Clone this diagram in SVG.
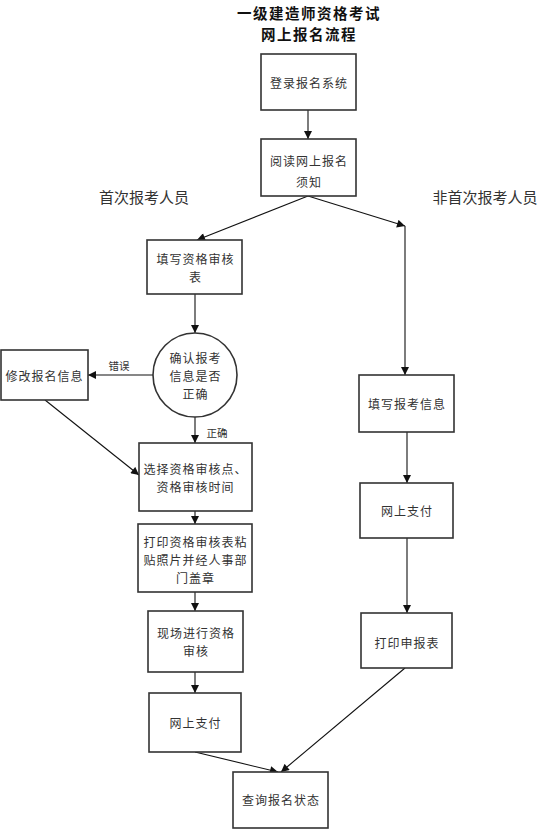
<svg xmlns="http://www.w3.org/2000/svg" width="542" height="829" viewBox="0 0 542 829">
<style>
.box{fill:#fff;stroke:#333;stroke-width:1.6}
.t{font-family:"Noto Sans CJK SC","Noto Sans",sans-serif;font-size:12px;letter-spacing:1px;fill:#333;text-anchor:middle;dominant-baseline:central}
.lab{font-family:"Noto Sans CJK SC","Noto Sans",sans-serif;font-size:15px;fill:#333;text-anchor:middle;dominant-baseline:central}
.sm{font-family:"Noto Sans CJK SC","Noto Sans",sans-serif;font-size:10.5px;fill:#333;text-anchor:middle;dominant-baseline:central}
.title{font-family:"Noto Sans CJK SC","Noto Sans",sans-serif;font-size:14.5px;letter-spacing:1.5px;font-weight:bold;fill:#111;text-anchor:middle;dominant-baseline:central}
.c{stroke:#111;stroke-width:1.1;fill:none}
.a{marker-end:url(#arr)}
</style>
<defs>
<marker id="arr" viewBox="0 0 10 10" refX="10" refY="5" markerWidth="9" markerHeight="8" markerUnits="userSpaceOnUse" orient="auto">
<path d="M0,0 L10,5 L0,10 z" fill="#111"/>
</marker>
</defs>
<rect width="542" height="829" fill="#fff"/>
<g id="title">
<text class="title" x="309" y="12">一级建造师资格考试</text>
<text class="title" x="309" y="33">网上报名流程</text>
</g>
<g id="label-first"><text class="lab" x="144" y="196">首次报考人员</text></g>
<g id="label-nonfirst"><text class="lab" x="485" y="196">非首次报考人员</text></g>
<g id="connectors">
<line class="c a" x1="308" y1="110" x2="308" y2="139"/>
<line class="c a" x1="308" y1="196" x2="197" y2="240"/>
<line class="c a" x1="308" y1="196" x2="405" y2="226"/>
<line class="c a" x1="405" y1="226" x2="405" y2="375"/>
<line class="c a" x1="195" y1="294" x2="195" y2="333"/>
<line class="c a" x1="153" y1="375" x2="88" y2="375"/>
<text class="sm" x="119" y="365">错误</text>
<line class="c a" x1="195" y1="417" x2="195" y2="443"/>
<text class="sm" x="217" y="432">正确</text>
<line class="c a" x1="45" y1="400" x2="139" y2="475"/>
<line class="c a" x1="195" y1="511" x2="195" y2="524"/>
<line class="c a" x1="195" y1="592" x2="195" y2="611"/>
<line class="c a" x1="195" y1="672" x2="195" y2="693"/>
<line class="c a" x1="195" y1="752" x2="278" y2="772"/>
<line class="c a" x1="405" y1="668" x2="281" y2="772"/>
<line class="c a" x1="407" y1="432" x2="407" y2="483"/>
<line class="c a" x1="407" y1="538" x2="407" y2="613"/>
</g>
<g id="n1"><rect class="box" x="261" y="54" width="95" height="56"/><text class="t" x="309" y="82">登录报名系统</text></g>
<g id="n2"><rect class="box" x="261" y="139" width="95" height="57"/><text class="t" x="309" y="160">阅读网上报名</text><text class="t" x="309" y="181">须知</text></g>
<g id="n3"><rect class="box" x="147" y="240" width="95" height="54"/><text class="t" x="195.5" y="258">填写资格审核</text><text class="t" x="195.5" y="276">表</text></g>
<g id="n4"><circle class="box" cx="195" cy="375" r="42"/><text class="t" x="195.5" y="357">确认报考</text><text class="t" x="195.5" y="375">信息是否</text><text class="t" x="195.5" y="393">正确</text></g>
<g id="n5"><rect class="box" x="1" y="350" width="87" height="50"/><text class="t" x="44.5" y="375">修改报名信息</text></g>
<g id="n6"><rect class="box" x="139" y="443" width="113" height="68"/><text class="t" x="195.5" y="468">选择资格审核点、</text><text class="t" x="195.5" y="486">资格审核时间</text></g>
<g id="n7"><rect class="box" x="138" y="524" width="114" height="68"/><text class="t" x="195.5" y="541.5">打印资格审核表粘</text><text class="t" x="195.5" y="559.5">贴照片并经人事部</text><text class="t" x="195.5" y="577.5">门盖章</text></g>
<g id="n8"><rect class="box" x="148" y="611" width="95" height="61"/><text class="t" x="196" y="632">现场进行资格</text><text class="t" x="196" y="650">审核</text></g>
<g id="n9"><rect class="box" x="149" y="693" width="92" height="59"/><text class="t" x="195.5" y="722">网上支付</text></g>
<g id="n10"><rect class="box" x="233" y="772" width="95" height="56"/><text class="t" x="281" y="799">查询报名状态</text></g>
<g id="n11"><rect class="box" x="359" y="375" width="95" height="57"/><text class="t" x="407" y="403">填写报考信息</text></g>
<g id="n12"><rect class="box" x="360" y="483" width="93" height="55"/><text class="t" x="407" y="510">网上支付</text></g>
<g id="n13"><rect class="box" x="361" y="613" width="91" height="55"/><text class="t" x="407" y="642">打印申报表</text></g>
</svg>
